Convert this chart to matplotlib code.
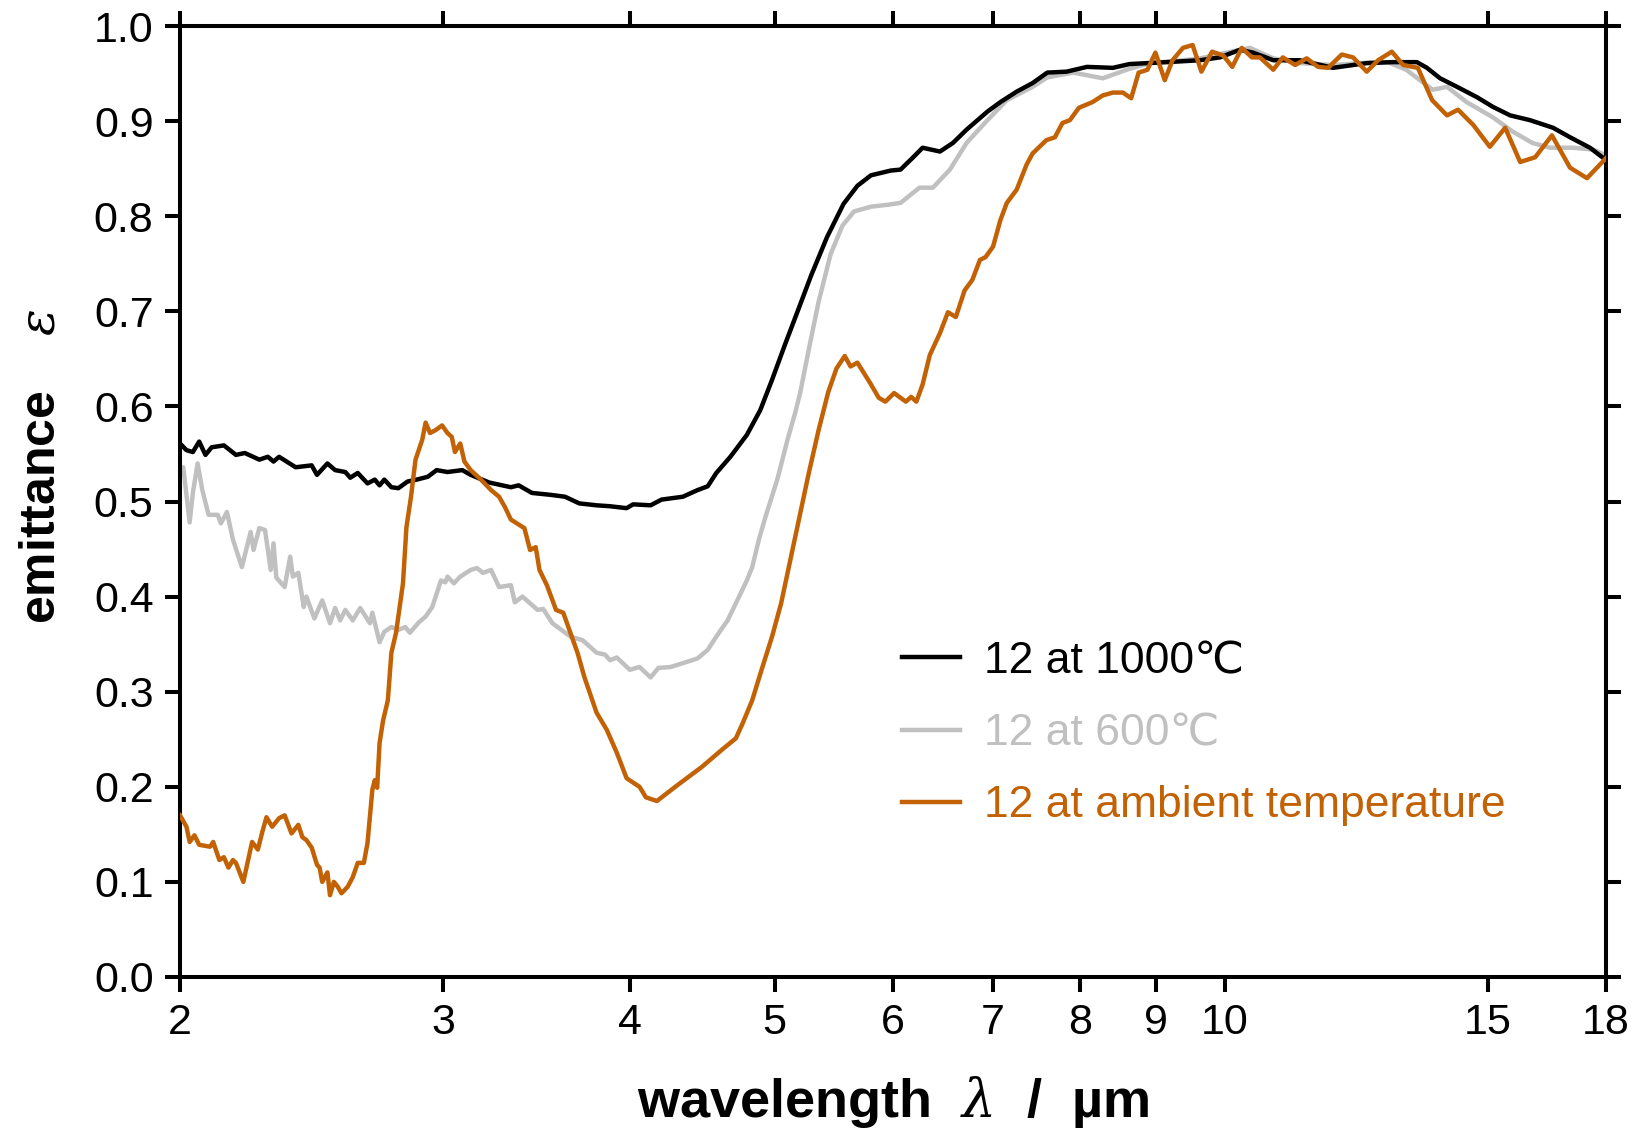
import matplotlib
matplotlib.use("Agg")
import matplotlib.pyplot as plt
from matplotlib.ticker import FixedLocator, NullLocator, FixedFormatter

plt.rcParams['font.family'] = ['Liberation Sans', 'DejaVu Sans']
plt.rcParams['mathtext.fontset'] = 'dejavuserif'

# 12 at 1000 C (black)
lam_1000 = [2.00, 2.02, 2.04, 2.06, 2.08, 2.10, 2.14, 2.16, 2.18, 2.21,
            2.26, 2.29, 2.31, 2.33, 2.39, 2.45, 2.47, 2.51, 2.54, 2.58,
            2.60, 2.63, 2.67, 2.70, 2.72, 2.74, 2.77, 2.80, 2.84, 2.88,
            2.93, 2.97, 3.02, 3.09, 3.13, 3.22, 3.33, 3.37, 3.44, 3.54,
            3.62, 3.70, 3.80, 3.88, 3.98, 4.02, 4.13, 4.20, 4.34, 4.44,
            4.51, 4.57, 4.67, 4.79, 4.89, 4.98, 5.08, 5.18, 5.29, 5.42,
            5.56, 5.68, 5.80, 5.98, 6.07, 6.19, 6.28, 6.45, 6.58, 6.72,
            6.94, 7.08, 7.26, 7.44, 7.61, 7.84, 8.09, 8.42, 8.64, 9.15,
            9.63, 9.93, 10.24, 10.45, 10.78, 11.23, 11.82, 12.45, 12.96, 13.45,
            13.66, 13.94, 14.31, 14.76, 15.12, 15.53, 16.01, 16.59, 17.03, 17.56,
            18.0]
eps_1000 = [0.561, 0.554, 0.552, 0.563, 0.549, 0.557, 0.559, 0.554, 0.549, 0.551,
            0.544, 0.547, 0.542, 0.547, 0.536, 0.538, 0.528, 0.540, 0.533, 0.531,
            0.525, 0.530, 0.519, 0.523, 0.517, 0.523, 0.515, 0.514, 0.521, 0.523,
            0.526, 0.533, 0.531, 0.533, 0.528, 0.520, 0.515, 0.517, 0.509, 0.507,
            0.505, 0.498, 0.496, 0.495, 0.493, 0.497, 0.496, 0.502, 0.505, 0.512,
            0.516, 0.530, 0.547, 0.570, 0.596, 0.628, 0.665, 0.700, 0.738, 0.778,
            0.813, 0.832, 0.843, 0.848, 0.849, 0.862, 0.872, 0.868, 0.877, 0.891,
            0.910, 0.920, 0.931, 0.940, 0.951, 0.952, 0.957, 0.956, 0.960, 0.962,
            0.964, 0.967, 0.975, 0.972, 0.964, 0.964, 0.956, 0.961, 0.962, 0.962,
            0.956, 0.945, 0.936, 0.925, 0.915, 0.906, 0.901, 0.893, 0.883, 0.872,
            0.859]

# 12 at 600 C (grey)
lam_600 = [2.00, 2.01, 2.03, 2.04, 2.055, 2.07, 2.09, 2.12, 2.13, 2.15,
           2.17, 2.20, 2.23, 2.24, 2.26, 2.28, 2.30, 2.31, 2.32, 2.35,
           2.37, 2.38, 2.40, 2.42, 2.43, 2.46, 2.49, 2.52, 2.54, 2.56,
           2.58, 2.61, 2.64, 2.68, 2.69, 2.72, 2.74, 2.77, 2.80, 2.83,
           2.85, 2.89, 2.92, 2.95, 2.99, 3.01, 3.02, 3.05, 3.08, 3.13,
           3.16, 3.19, 3.23, 3.27, 3.33, 3.35, 3.39, 3.47, 3.50, 3.55,
           3.65, 3.72, 3.80, 3.85, 3.88, 3.92, 4.00, 4.06, 4.13, 4.18,
           4.26, 4.34, 4.44, 4.51, 4.57, 4.65, 4.72, 4.79, 4.83, 4.88,
           4.93, 5.02, 5.10, 5.16, 5.20, 5.27, 5.35, 5.45, 5.55, 5.65,
           5.80, 5.95, 6.07, 6.25, 6.38, 6.55, 6.72, 6.94, 7.15, 7.44,
           7.61, 7.92, 8.29, 8.60, 8.91, 9.38, 9.63, 10.04, 10.40, 10.78,
           11.23, 11.82, 12.34, 12.86, 13.23, 13.78, 14.09, 14.52, 15.12, 15.59,
           16.07, 16.51, 17.11, 17.65, 18.0]
eps_600 = [0.534, 0.536, 0.478, 0.509, 0.540, 0.512, 0.486, 0.486, 0.477, 0.489,
           0.460, 0.431, 0.468, 0.449, 0.472, 0.470, 0.428, 0.456, 0.420, 0.410,
           0.442, 0.421, 0.425, 0.389, 0.400, 0.377, 0.396, 0.372, 0.388, 0.375,
           0.386, 0.375, 0.388, 0.372, 0.383, 0.352, 0.363, 0.368, 0.365, 0.368,
           0.362, 0.373, 0.379, 0.389, 0.417, 0.415, 0.421, 0.414, 0.421, 0.428,
           0.430, 0.425, 0.428, 0.410, 0.412, 0.394, 0.400, 0.386, 0.387, 0.372,
           0.358, 0.354, 0.341, 0.339, 0.333, 0.336, 0.323, 0.326, 0.315, 0.325,
           0.326, 0.330, 0.335, 0.344, 0.358, 0.375, 0.396, 0.417, 0.431, 0.460,
           0.484, 0.523, 0.565, 0.593, 0.614, 0.660, 0.710, 0.760, 0.790, 0.805,
           0.810, 0.812, 0.814, 0.830, 0.830, 0.849, 0.877, 0.901, 0.922, 0.936,
           0.946, 0.951, 0.945, 0.954, 0.961, 0.964, 0.966, 0.972, 0.977, 0.966,
           0.961, 0.959, 0.961, 0.962, 0.954, 0.933, 0.936, 0.920, 0.904, 0.889,
           0.877, 0.872, 0.872, 0.870, 0.864]

# 12 at ambient temperature (orange)
lam_amb = [2.00, 2.02, 2.03, 2.045, 2.06, 2.095, 2.105, 2.125, 2.14, 2.155,
           2.17, 2.18, 2.205, 2.235, 2.255, 2.27, 2.285, 2.305, 2.33, 2.35,
           2.375, 2.40, 2.415, 2.43, 2.45, 2.47, 2.48, 2.49, 2.51, 2.52,
           2.535, 2.55, 2.565, 2.59, 2.61, 2.63, 2.655, 2.67, 2.69, 2.70,
           2.71, 2.72, 2.735, 2.755, 2.77, 2.79, 2.82, 2.835, 2.855, 2.875,
           2.905, 2.92, 2.94, 2.965, 2.995, 3.02, 3.04, 3.055, 3.08, 3.10,
           3.13, 3.18, 3.23, 3.27, 3.30, 3.33, 3.40, 3.43, 3.46, 3.48,
           3.52, 3.57, 3.61, 3.69, 3.73, 3.80, 3.86, 3.92, 3.98, 4.06,
           4.10, 4.17, 4.29, 4.47, 4.61, 4.71, 4.76, 4.83, 4.90, 4.98,
           5.05, 5.11, 5.19, 5.27, 5.35, 5.43, 5.50, 5.57, 5.62, 5.68,
           5.79, 5.87, 5.93, 6.01, 6.07, 6.12, 6.17, 6.22, 6.28, 6.35,
           6.45, 6.53, 6.61, 6.70, 6.78, 6.86, 6.92, 7.00, 7.08, 7.15,
           7.26, 7.37, 7.44, 7.60, 7.70, 7.79, 7.88, 7.99, 8.16, 8.29,
           8.42, 8.55, 8.66, 8.76, 8.88, 8.99, 9.12, 9.23, 9.38, 9.52,
           9.65, 9.81, 9.98, 10.12, 10.27, 10.43, 10.56, 10.78, 10.94, 11.15,
           11.35, 11.55, 11.73, 11.98, 12.19, 12.45, 12.67, 12.94, 13.17, 13.47,
           13.77, 14.09, 14.33, 14.67, 15.05, 15.41, 15.77, 16.14, 16.56, 17.03,
           17.48, 18.0]
eps_amb = [0.170, 0.158, 0.142, 0.149, 0.139, 0.137, 0.142, 0.123, 0.126, 0.115,
           0.123, 0.120, 0.100, 0.142, 0.134, 0.152, 0.168, 0.158, 0.167, 0.170,
           0.151, 0.160, 0.147, 0.144, 0.136, 0.118, 0.115, 0.100, 0.110, 0.086,
           0.100, 0.095, 0.088, 0.095, 0.105, 0.120, 0.120, 0.141, 0.197, 0.207,
           0.199, 0.246, 0.270, 0.291, 0.341, 0.362, 0.414, 0.473, 0.505, 0.544,
           0.565, 0.583, 0.572, 0.575, 0.580, 0.572, 0.568, 0.552, 0.561, 0.542,
           0.533, 0.523, 0.512, 0.505, 0.494, 0.481, 0.472, 0.449, 0.452, 0.428,
           0.412, 0.386, 0.383, 0.341, 0.315, 0.278, 0.260, 0.236, 0.209, 0.200,
           0.189, 0.185, 0.200, 0.221, 0.239, 0.251, 0.267, 0.291, 0.323, 0.358,
           0.393, 0.431, 0.481, 0.530, 0.575, 0.615, 0.640, 0.653, 0.642, 0.646,
           0.625, 0.609, 0.605, 0.614, 0.609, 0.605, 0.610, 0.605, 0.623, 0.654,
           0.677, 0.699, 0.694, 0.722, 0.733, 0.754, 0.757, 0.768, 0.796, 0.814,
           0.828, 0.854, 0.866, 0.880, 0.883, 0.898, 0.901, 0.914, 0.920, 0.927,
           0.930, 0.930, 0.924, 0.951, 0.954, 0.972, 0.943, 0.964, 0.977, 0.980,
           0.952, 0.973, 0.969, 0.957, 0.977, 0.967, 0.967, 0.954, 0.967, 0.959,
           0.966, 0.957, 0.956, 0.970, 0.967, 0.952, 0.964, 0.973, 0.959, 0.956,
           0.922, 0.906, 0.912, 0.896, 0.873, 0.893, 0.857, 0.862, 0.885, 0.851,
           0.840, 0.861]

xticks = [2, 3, 4, 5, 6, 7, 8, 9, 10, 15, 18]
yticks = [0.0, 0.1, 0.2, 0.3, 0.4, 0.5, 0.6, 0.7, 0.8, 0.9, 1.0]

c_black = "#000000"
c_grey = "#c0c0c0"
c_orange = "#c26205"

fig = plt.figure(figsize=(16.43, 11.34), dpi=100)
ax = fig.add_axes([180/1643, 1-977/1134, 1426/1643, 951/1134])

lw = 3.2
ax.plot(lam_1000, eps_1000, color=c_black, lw=lw, label="12 at 1000\u2103", zorder=3)
ax.plot(lam_600, eps_600, color=c_grey, lw=lw, label="12 at 600\u2103", zorder=2)
ax.plot(lam_amb, eps_amb, color=c_orange, lw=lw, label="12 at ambient temperature", zorder=4)

ax.set_xscale("log")
ax.set_xlim(2, 18)
ax.set_ylim(0, 1.0)
ax.xaxis.set_major_locator(FixedLocator(xticks))
ax.xaxis.set_major_formatter(FixedFormatter([str(t) for t in xticks]))
ax.xaxis.set_minor_locator(NullLocator())
ax.yaxis.set_major_locator(FixedLocator(yticks))
ax.yaxis.set_major_formatter(FixedFormatter([f"{t:.1f}" for t in yticks]))

for s in ax.spines.values():
    s.set_linewidth(2.9)
ax.tick_params(which="major", direction="out", length=11, width=2.9,
               labelsize=31, top=True, right=True, pad=8)

leg = ax.legend(loc="upper left", bbox_to_anchor=(0.494, 0.372), frameon=False,
                fontsize=32, handlelength=1.3, handletextpad=0.55,
                labelspacing=0.7, labelcolor="linecolor", borderaxespad=0)
for h in leg.get_lines():
    h.set_linewidth(3.2)

fig.text(893/1643, 1-1102/1134, "wavelength  $\\lambda$  /  µm", ha="center", va="center",
         fontsize=39, fontweight="bold")
fig.text(42/1643, 1-466/1134, "emittance    $\\varepsilon$", ha="center", va="center",
         rotation=90, fontsize=36, fontweight="bold")

fig.savefig("out.png", dpi=100)
